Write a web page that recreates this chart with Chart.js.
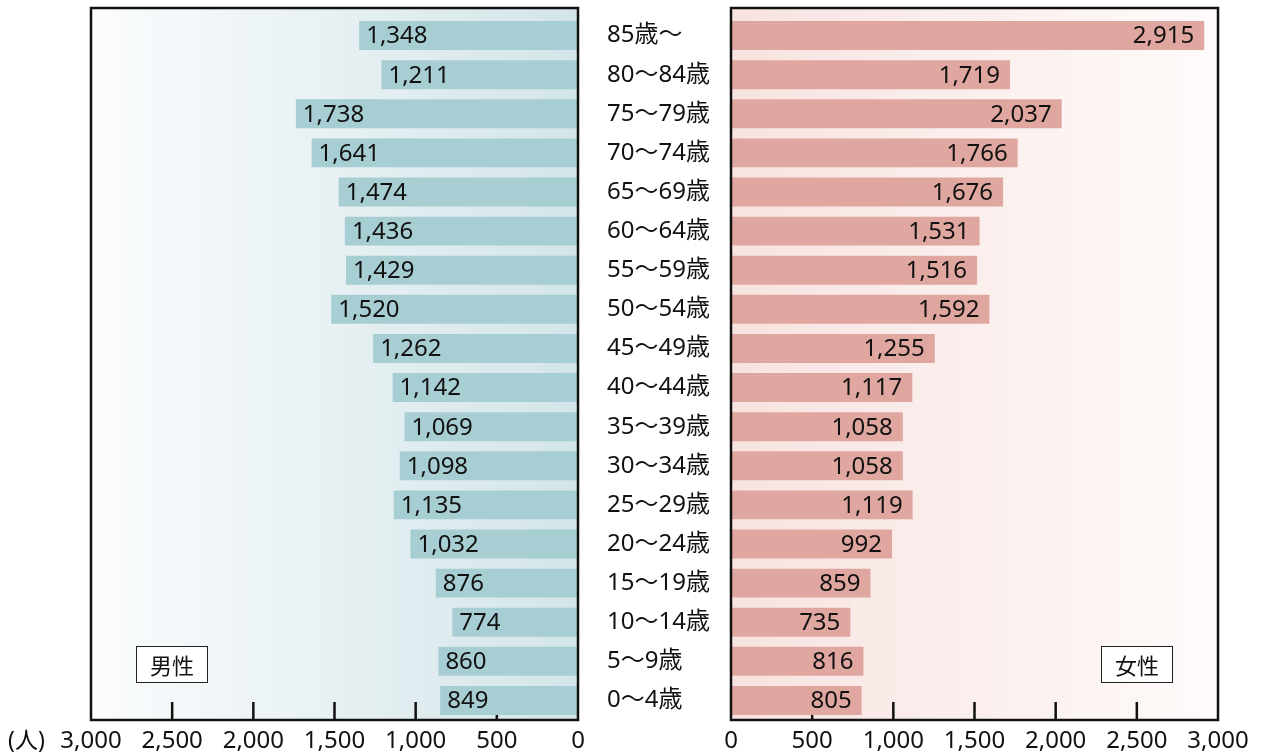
<!DOCTYPE html>
<html>
<head>
<meta charset="utf-8">
<script src="https://cdn.jsdelivr.net/npm/chart.js@4.4.1/dist/chart.umd.min.js"></script>
<style>
body { margin: 0; background: #fff; width: 1266px; height: 754px; overflow: hidden; position: relative; }
#maleWrap { position: absolute; left: 0; top: 0; width: 600px; height: 754px; }
#femaleWrap { position: absolute; left: 600px; top: 0; width: 666px; height: 754px; }
</style>
</head>
<body>
<div id="maleWrap"><canvas id="maleChart"></canvas></div>
<div id="femaleWrap"><canvas id="femaleChart"></canvas></div>
<script>
var ageGroups = ['85歳～', '80～84歳', '75～79歳', '70～74歳', '65～69歳', '60～64歳',
  '55～59歳', '50～54歳', '45～49歳', '40～44歳', '35～39歳', '30～34歳',
  '25～29歳', '20～24歳', '15～19歳', '10～14歳', '5～9歳', '0～4歳'];
var maleValues = [1348, 1211, 1738, 1641, 1474, 1436, 1429, 1520, 1262, 1142,
  1069, 1098, 1135, 1032, 876, 774, 860, 849];
var femaleValues = [2915, 1719, 2037, 1766, 1676, 1531, 1516, 1592, 1255, 1117,
  1058, 1058, 1119, 992, 859, 735, 816, 805];
var tickValues = [0, 500, 1000, 1500, 2000, 2500, 3000];
var unitLabel = '(人)';

var FONT = '"Noto Sans", "Noto Sans CJK JP", sans-serif';
var CJK = '"Noto Sans CJK JP", sans-serif';

function fmt(v) {
  return Number(v).toLocaleString('en-US');
}

// gradient background + frame + inner tick marks
var panelPlugin = {
  id: 'panel',
  beforeDatasetsDraw: function (chart, args, opts) {
    var ca = chart.chartArea, ctx = chart.ctx;
    var top = ca.top - 8;
    ctx.save();
    var g = ctx.createLinearGradient(ca.left, 0, ca.right, 0);
    g.addColorStop(0, opts.bgFrom);
    g.addColorStop(1, opts.bgTo);
    ctx.fillStyle = g;
    ctx.fillRect(ca.left, top, ca.right - ca.left, ca.bottom - top);
    // small tick marks going up from the axis
    var xs = chart.scales.x;
    ctx.strokeStyle = '#111';
    ctx.lineWidth = 2.5;
    xs.ticks.forEach(function (t) {
      if (t.value === xs.min || t.value === xs.max) return;
      var px = xs.getPixelForValue(t.value);
      ctx.beginPath();
      ctx.moveTo(px, ca.bottom);
      ctx.lineTo(px, ca.bottom - 18);
      ctx.stroke();
    });
    ctx.restore();
  },
  afterDatasetsDraw: function (chart, args, opts) {
    var ctx = chart.ctx;
    var meta = chart.getDatasetMeta(0);
    var vals = chart.data.datasets[0].data;
    ctx.save();
    ctx.font = '24px ' + FONT;
    ctx.fillStyle = '#111';
    ctx.textBaseline = 'middle';
    meta.data.forEach(function (el, i) {
      if (opts.side === 'left') {
        ctx.textAlign = 'left';
        ctx.fillText(fmt(vals[i]), el.x + 7, el.y + 1);
      } else {
        ctx.textAlign = 'right';
        ctx.fillText(fmt(vals[i]), el.x - 10, el.y + 1);
      }
    });
    ctx.restore();
  },
  afterDraw: function (chart, args, opts) {
    var ca = chart.chartArea, ctx = chart.ctx;
    var top = ca.top - 8;
    ctx.save();
    ctx.strokeStyle = '#111';
    ctx.lineWidth = 2.5;
    ctx.strokeRect(ca.left, top, ca.right - ca.left, ca.bottom - top);

    // sex label box
    var bw = 72, bh = 37;
    var bx = opts.side === 'left' ? ca.left + 45 : ca.right - 45 - bw;
    var by = ca.bottom - 74;
    ctx.fillStyle = '#fff';
    ctx.fillRect(bx, by, bw, bh);
    ctx.lineWidth = 1;
    ctx.strokeStyle = '#222';
    ctx.strokeRect(bx + 0.5, by + 0.5, bw - 1, bh - 1);
    ctx.fillStyle = '#111';
    ctx.font = '22px ' + CJK;
    ctx.textAlign = 'center';
    ctx.textBaseline = 'middle';
    ctx.fillText(opts.title, bx + bw / 2, by + bh / 2 + 1);

    if (opts.unit) {
      ctx.textAlign = 'left';
      ctx.font = '23px ' + FONT;
      ctx.fillText(opts.unit, 8, 741);
    }
    ctx.restore();
  }
};

function xAxis(reverse) {
  return {
    min: 0,
    max: 3000,
    reverse: reverse,
    afterBuildTicks: function (s) {
      s.ticks = tickValues.map(function (v) { return { value: v }; });
    },
    afterFit: function (s) { s.height = 34; },
    grid: { display: false, drawTicks: false },
    border: { display: false },
    ticks: {
      autoSkip: false,
      maxRotation: 0,
      padding: 7,
      color: '#111',
      font: { family: FONT, size: 24 },
      callback: function (v) { return fmt(v); }
    }
  };
}

new Chart(document.getElementById('maleChart'), {
  type: 'bar',
  data: {
    labels: ageGroups,
    datasets: [{
      label: '男性',
      data: maleValues,
      backgroundColor: '#a7ced3',
      borderWidth: 0,
      barPercentage: 0.74,
      categoryPercentage: 1
    }]
  },
  options: {
    indexAxis: 'y',
    responsive: true,
    maintainAspectRatio: false,
    animation: false,
    layout: { padding: { left: 91, right: 22, top: 16, bottom: 0 } },
    scales: {
      x: xAxis(true),
      y: { display: false }
    },
    plugins: {
      legend: { display: false },
      tooltip: { enabled: false },
      panel: { side: 'left', title: '男性', unit: unitLabel, bgFrom: '#fbfcfd', bgTo: '#d3e5e9' }
    }
  },
  plugins: [panelPlugin]
});

new Chart(document.getElementById('femaleChart'), {
  type: 'bar',
  data: {
    labels: ageGroups,
    datasets: [{
      label: '女性',
      data: femaleValues,
      backgroundColor: '#e0a7a0',
      borderWidth: 0,
      barPercentage: 0.74,
      categoryPercentage: 1
    }]
  },
  options: {
    indexAxis: 'y',
    responsive: true,
    maintainAspectRatio: false,
    animation: false,
    layout: { padding: { left: 7, right: 48, top: 16, bottom: 0 } },
    scales: {
      x: xAxis(false),
      y: {
        afterFit: function (s) { s.width = 124; },
        grid: { display: false, drawTicks: false },
        border: { display: false },
        ticks: {
          crossAlign: 'far',
          padding: 0,
          color: '#111',
          font: { family: FONT, size: 24 }
        }
      }
    },
    plugins: {
      legend: { display: false },
      tooltip: { enabled: false },
      panel: { side: 'right', title: '女性', bgFrom: '#f7e3e0', bgTo: '#fefbfa' }
    }
  },
  plugins: [panelPlugin]
});
</script>
</body>
</html>
